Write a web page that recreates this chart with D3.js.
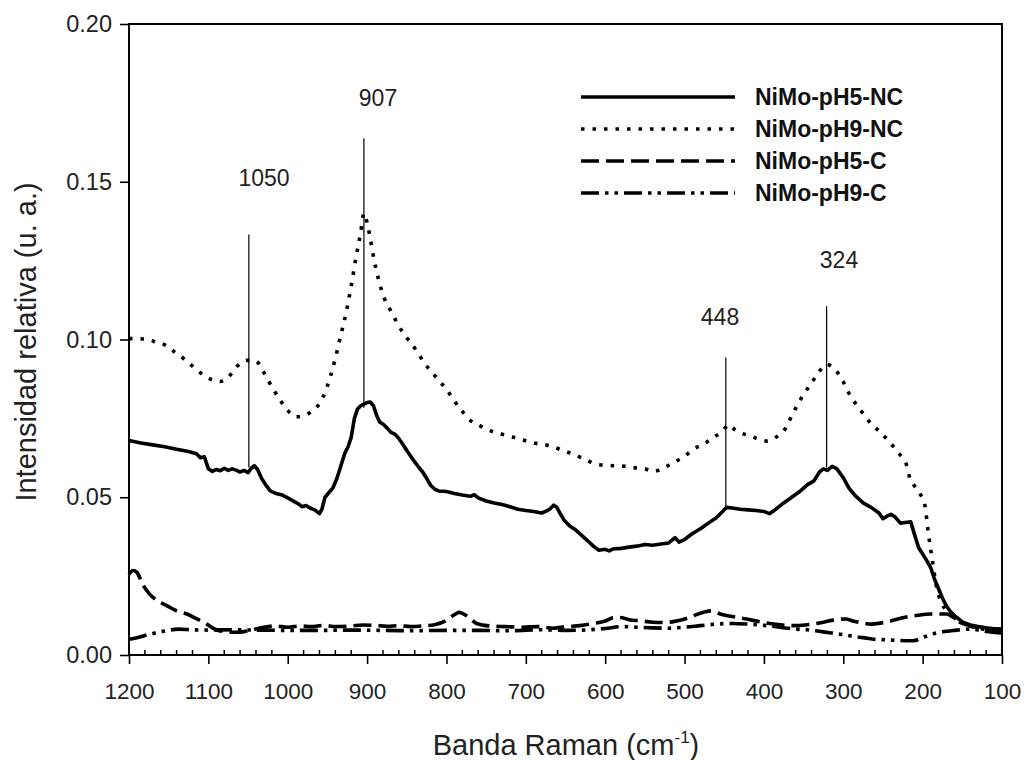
<!DOCTYPE html>
<html><head><meta charset="utf-8">
<script src="https://cdn.jsdelivr.net/npm/d3@7"></script>
<style>
body{margin:0;background:#fff;}
svg{display:block;font-family:"Liberation Sans",Arial,sans-serif;}
</style></head>
<body><svg id="c" width="1026" height="760"></svg>
<script>
// ---------- data ----------
const xTicks = [1200,1100,1000,900,800,700,600,500,400,300,200,100];
const yTicks = [0.00,0.05,0.10,0.15,0.20];
const seriesNames = ["NiMo-pH5-NC","NiMo-pH9-NC","NiMo-pH5-C","NiMo-pH9-C"];
const peakLabels = ["1050","907","448","324"];
const peakLineWn = [1049,904,448,321];
const peakLineTop = [0.1333,0.1638,0.0943,0.1105];
const peakLineBottom = [0.0594,0.0784,0.0467,0.0594];

const pH5NC_wn = [1200,1185,1170,1155,1140,1125,1115,1110,1105,1100,1095,1090,1085,1080,1075,1070,1065,1060,1055,1050,1046,1042,1038,1033,1028,1022,1015,1008,1000,993,987,982,977,972,966,960,957,953,948,943,938,933,928,924,920,916,912,908,904,900,896,892,888,884,880,875,870,865,860,855,850,845,840,835,830,825,820,815,810,800,790,780,770,765,760,750,740,730,720,710,700,690,680,675,670,665,661,657,652,645,638,630,622,615,608,600,595,590,580,570,560,550,540,530,520,512,507,500,490,480,470,460,452,447,440,430,420,410,400,393,385,375,365,355,345,337,330,325,320,314,308,300,293,285,275,265,255,250,245,240,235,228,222,215,210,205,200,195,190,185,180,175,170,165,160,155,150,140,130,120,110,100];
const pH5NC_val = [0.0680,0.0672,0.0666,0.0660,0.0652,0.0645,0.0638,0.0625,0.0628,0.0590,0.0582,0.0588,0.0584,0.0592,0.0585,0.0590,0.0586,0.0580,0.0585,0.0578,0.0592,0.0600,0.0588,0.0560,0.0540,0.0520,0.0512,0.0508,0.0498,0.0488,0.0480,0.0470,0.0474,0.0466,0.0460,0.0448,0.0462,0.0500,0.0515,0.0530,0.0560,0.0600,0.0640,0.0660,0.0690,0.0750,0.0780,0.0790,0.0795,0.0800,0.0802,0.0790,0.0760,0.0738,0.0732,0.0720,0.0706,0.0700,0.0686,0.0668,0.0648,0.0630,0.0612,0.0595,0.0580,0.0560,0.0538,0.0526,0.0520,0.0518,0.0512,0.0507,0.0503,0.0508,0.0498,0.0488,0.0482,0.0477,0.0470,0.0462,0.0458,0.0455,0.0450,0.0455,0.0462,0.0475,0.0468,0.0450,0.0428,0.0410,0.0398,0.0380,0.0362,0.0345,0.0332,0.0335,0.0330,0.0336,0.0338,0.0342,0.0345,0.0350,0.0348,0.0352,0.0355,0.0372,0.0358,0.0366,0.0385,0.0400,0.0418,0.0435,0.0455,0.0468,0.0466,0.0462,0.0460,0.0458,0.0455,0.0448,0.0462,0.0482,0.0500,0.0518,0.0540,0.0552,0.0580,0.0590,0.0585,0.0598,0.0590,0.0562,0.0530,0.0505,0.0482,0.0468,0.0450,0.0432,0.0440,0.0446,0.0438,0.0418,0.0420,0.0422,0.0380,0.0340,0.0320,0.0300,0.0278,0.0240,0.0210,0.0180,0.0155,0.0138,0.0125,0.0115,0.0105,0.0095,0.0090,0.0086,0.0083,0.0082];

const pH9NC_wn = [1200,1185,1175,1165,1155,1145,1130,1115,1105,1095,1085,1075,1065,1055,1045,1038,1030,1020,1010,1000,990,980,970,962,955,946,940,933,926,920,914,908,904,900,896,891,885,879,870,862,853,845,836,828,818,807,798,790,780,772,760,749,730,707,690,673,655,640,625,610,590,575,564,550,539,525,514,500,489,475,463,452,444,437,430,415,396,385,375,363,350,340,333,326,321,315,304,291,280,266,255,245,235,226,220,216,210,203,197,193,188,182,176,170,160,150,135,120,100];
const pH9NC_val = [0.1003,0.1002,0.1000,0.0990,0.0983,0.0965,0.0937,0.0905,0.0885,0.0872,0.0867,0.0880,0.0912,0.0932,0.0935,0.0928,0.0895,0.0850,0.0810,0.0775,0.0755,0.0758,0.0772,0.0790,0.0820,0.0885,0.0940,0.1015,0.1090,0.1170,0.1260,0.1340,0.1400,0.1370,0.1320,0.1250,0.1185,0.1135,0.1090,0.1052,0.1015,0.0990,0.0958,0.0926,0.0895,0.0863,0.0835,0.0805,0.0772,0.0748,0.0730,0.0715,0.0700,0.0684,0.0672,0.0665,0.0650,0.0636,0.0620,0.0604,0.0600,0.0598,0.0594,0.0590,0.0582,0.0595,0.0610,0.0630,0.0652,0.0670,0.0690,0.0710,0.0730,0.0715,0.0705,0.0692,0.0678,0.0690,0.0710,0.0768,0.0826,0.0862,0.0889,0.0912,0.0921,0.0915,0.0884,0.0821,0.0782,0.0736,0.0710,0.0684,0.0655,0.0626,0.0600,0.0560,0.0535,0.0510,0.0472,0.0390,0.0304,0.0210,0.0165,0.0140,0.0115,0.0100,0.0088,0.0080,0.0076];

const pH5C_wn = [1200,1195,1190,1183,1174,1163,1152,1140,1127,1115,1102,1090,1078,1066,1055,1044,1030,1015,1000,985,970,955,940,921,905,890,875,860,845,830,815,800,790,784,775,762,745,725,704,685,665,650,632,615,600,590,581,570,555,540,524,510,495,485,475,466,455,440,422,405,385,365,345,325,310,298,285,264,245,225,206,190,170,160,153,141,125,100];
const pH5C_val = [0.0255,0.0268,0.0262,0.0225,0.0193,0.0170,0.0156,0.0140,0.0130,0.0115,0.0098,0.0080,0.0074,0.0072,0.0074,0.0080,0.0088,0.0092,0.0088,0.0092,0.0090,0.0094,0.0090,0.0092,0.0095,0.0094,0.0091,0.0093,0.0090,0.0092,0.0096,0.0110,0.0128,0.0135,0.0125,0.0100,0.0092,0.0090,0.0088,0.0090,0.0085,0.0090,0.0093,0.0100,0.0108,0.0118,0.0119,0.0112,0.0108,0.0104,0.0103,0.0108,0.0118,0.0128,0.0136,0.0140,0.0130,0.0122,0.0114,0.0105,0.0097,0.0093,0.0096,0.0104,0.0112,0.0114,0.0106,0.0098,0.0105,0.0118,0.0126,0.0130,0.0130,0.0118,0.0104,0.0093,0.0085,0.0082];

const pH9C_wn = [1200,1190,1180,1170,1155,1138,1120,1100,1066,1040,1000,960,920,880,840,800,760,720,680,650,620,600,580,560,540,520,500,480,460,440,420,400,380,360,345,330,315,304,290,275,262,245,230,212,200,190,178,160,140,120,100];
const pH9C_val = [0.0050,0.0055,0.0062,0.0068,0.0076,0.0082,0.0080,0.0079,0.0080,0.0079,0.0078,0.0078,0.0079,0.0078,0.0077,0.0078,0.0078,0.0077,0.0080,0.0078,0.0080,0.0084,0.0090,0.0088,0.0086,0.0085,0.0088,0.0093,0.0098,0.0100,0.0098,0.0094,0.0088,0.0082,0.0080,0.0075,0.0070,0.0066,0.0060,0.0055,0.0050,0.0048,0.0046,0.0045,0.0055,0.0065,0.0072,0.0078,0.0082,0.0075,0.0070];

// ---------- layout ----------
const L=129,R=1002,T=24,B=655;
const svg=d3.select("#c");
const x=d3.scaleLinear().domain([1200,100]).range([L,R]);
const y=d3.scaleLinear().domain([0,0.2]).range([B,T]);

const styles=[
  {w:3.6,dash:null},
  {w:3.6,dash:"3.5,8"},
  {w:3.6,dash:"18,7"},
  {w:3.6,dash:"18,6,3.5,6,3.5,6"}
];
const wnArr=[pH5NC_wn,pH9NC_wn,pH5C_wn,pH9C_wn];
const valArr=[pH5NC_val,pH9NC_val,pH5C_val,pH9C_val];

// series
const line=d3.line().x(d=>x(d[0])).y(d=>y(d[1]));
const smooth=d3.line().x(d=>x(d[0])).y(d=>y(d[1])).curve(d3.curveMonotoneX);
wnArr.forEach((wn,i)=>{
  const pts=wn.map((w,j)=>[w,valArr[i][j]]);
  svg.append("path").attr("d",(i===0?line:smooth)(pts))
    .attr("fill","none").attr("stroke","#000")
    .attr("stroke-width",styles[i].w)
    .attr("stroke-dasharray",styles[i].dash)
    .attr("stroke-linejoin","round");
});

// peak marker lines + labels
const labelPos=[[264,186],[378,106],[720,325],[839,268]];
peakLineWn.forEach((wn,i)=>{
  svg.append("line").attr("x1",x(wn)).attr("x2",x(wn))
    .attr("y1",y(peakLineTop[i])).attr("y2",y(peakLineBottom[i]))
    .attr("stroke","#000").attr("stroke-width",1.2);
});
peakLabels.forEach((t,i)=>{
  svg.append("text").attr("x",labelPos[i][0]).attr("y",labelPos[i][1])
    .attr("text-anchor","middle").attr("font-size",23).attr("fill","#222").text(t);
});

// frame
svg.append("rect").attr("x",L).attr("y",T).attr("width",R-L).attr("height",B-T)
  .attr("fill","none").attr("stroke","#000").attr("stroke-width",2);

// x axis
const xAxis=svg.append("g").attr("transform",`translate(0,${B})`)
  .call(d3.axisBottom(x).tickValues(xTicks).tickSize(9).tickPadding(19).tickFormat(d3.format("d")));
xAxis.select(".domain").remove();
xAxis.selectAll("line").attr("stroke","#000").attr("stroke-width",1.6);
xAxis.selectAll("text").attr("font-size",22.5).attr("fill","#222").attr("font-family","Liberation Sans, Arial, sans-serif");
// minor x ticks (inward)
const minor=d3.range(1180,100,-20).filter(v=>v%100!==0);
svg.append("g").selectAll("line").data(minor).join("line")
  .attr("x1",d=>x(d)).attr("x2",d=>x(d)).attr("y1",B).attr("y2",B-5)
  .attr("stroke","#000").attr("stroke-width",1.5);

// y axis
const yAxis=svg.append("g").attr("transform",`translate(${L},0)`)
  .call(d3.axisLeft(y).tickValues(yTicks).tickSize(9).tickPadding(8).tickFormat(d3.format(".2f")));
yAxis.select(".domain").remove();
yAxis.selectAll("line").attr("stroke","#000").attr("stroke-width",1.6);
yAxis.selectAll("text").attr("font-size",23.5).attr("fill","#222").attr("font-family","Liberation Sans, Arial, sans-serif");

// axis titles
svg.append("text").attr("transform","translate(36,342) rotate(-90)")
  .attr("text-anchor","middle").attr("font-size",29).attr("fill","#222")
  .text("Intensidad relativa (u. a.)");
const xt=svg.append("text").attr("x",566).attr("y",755).attr("text-anchor","middle")
  .attr("font-size",29).attr("fill","#222");
xt.append("tspan").text("Banda Raman (cm");
xt.append("tspan").attr("font-size",17).attr("dy",-12).text("-1");
xt.append("tspan").attr("dy",12).text(")");

// legend
const legY=[97,129,161,193];
seriesNames.forEach((n,i)=>{
  svg.append("line").attr("x1",581).attr("x2",735).attr("y1",legY[i]).attr("y2",legY[i])
    .attr("stroke","#000").attr("stroke-width",styles[i].w)
    .attr("stroke-dasharray",styles[i].dash);
  svg.append("text").attr("x",755).attr("y",legY[i]+8).attr("font-size",23)
    .attr("font-weight","bold").attr("fill","#111").text(n);
});
</script></body></html>
